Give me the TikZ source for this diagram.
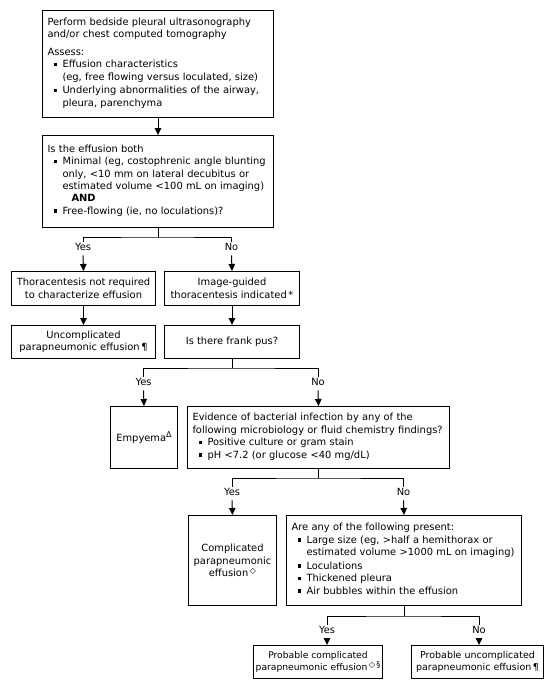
\documentclass[tikz,border=0pt]{standalone}
\usepackage{fontspec}
\setmainfont{DejaVu Sans}
\usetikzlibrary{arrows.meta}
\newcommand\bitem[1]{\par\noindent\hspace*{6pt}\makebox[9pt][l]{\raisebox{1.6pt}{\rule{3.4pt}{3.4pt}}}\begin{tabular}[t]{@{}l@{}}#1\end{tabular}\par}
\newcommand\myfont{\fontsize{9.9}{12.5}\selectfont}
\newcommand\mysup[1]{\raisebox{3.4pt}{\fontsize{8}{8}\selectfont #1}}
\tikzset{
  box/.style={draw, line width=1pt, inner xsep=5pt, inner ysep=0pt, anchor=north west, font=\myfont},
  lbox/.style={box, align=left},
  cbox/.style={box, align=center},
  lab/.style={font=\myfont, inner sep=1.5pt},
  ln/.style={line width=1pt},
  arr/.style={line width=1pt, -{Triangle[length=7pt,width=6.5pt]}}
}
\begin{document}
\begin{tikzpicture}[x=1pt,y=-1pt]
\useasboundingbox (0,0) rectangle (559,698);
% boxes
\node[lbox, minimum width=231pt, minimum height=107pt, text width=221pt] (b1) at (42,10)
 {Perform bedside pleural ultrasonography\\and/or chest computed tomography\par\vspace{5pt}Assess:\bitem{Effusion characteristics\\(eg, free flowing versus loculated, size)}\bitem{Underlying abnormalities of the airway,\\pleura, parenchyma}};
\node[lbox, minimum width=231pt, minimum height=92pt, text width=221pt] (b2) at (42,135)
 {Is the effusion both\bitem{Minimal (eg, costophrenic angle blunting\\only, <10 mm on lateral decubitus or\\estimated volume <100 mL on imaging)}\noindent\hspace*{24pt}\textbf{AND}\bitem{Free-flowing (ie, no loculations)?}\par\vspace{6pt}};
\node[cbox, minimum width=144pt, minimum height=34pt] (b3) at (11,271)
 {Thoracentesis not required\\to characterize effusion};
\node[cbox, minimum width=135pt, minimum height=34pt] (b4) at (164,271)
 {Image-guided\\thoracentesis indicated\,*};
\node[cbox, minimum width=144pt, minimum height=33pt] (b5) at (11,325)
 {Uncomplicated\\parapneumonic effusion\,¶};
\node[cbox, minimum width=135pt, minimum height=33pt] (b6) at (164,325)
 {Is there frank pus?};
\node[cbox, minimum width=67pt, minimum height=62pt, inner xsep=2pt] (b7) at (110,406)
 {Empyema\mysup{Δ}};
\node[lbox, minimum width=262pt, minimum height=62pt, text width=252pt] (b8) at (187,406)
 {Evidence of bacterial infection by any of the\\following microbiology or fluid chemistry findings?\bitem{Positive culture or gram stain}\bitem{pH <7.2 (or glucose <40 mg/dL)}};
\node[cbox, minimum width=88pt, minimum height=90pt, inner xsep=2pt] (b9) at (188,515)
 {Complicated\\parapneumonic\\effusion\,\mysup{◇}};
\node[lbox, minimum width=235pt, minimum height=90pt, text width=225pt] (b10) at (286,515)
 {Are any of the following present:\bitem{Large size (eg, >half a hemithorax or\\estimated volume >1000 mL on imaging)}\bitem{Loculations}\bitem{Thickened pleura}\bitem{Air bubbles within the effusion}};
\node[cbox, minimum width=129pt, minimum height=33pt, inner xsep=2pt, font=\fontsize{9.2}{12.5}\selectfont] (b11) at (253,645)
 {Probable complicated\\parapneumonic effusion\,\mysup{◇\,§}};
\node[cbox, minimum width=132pt, minimum height=33pt, inner xsep=2pt, font=\fontsize{9.5}{12.5}\selectfont] (b12) at (411,645)
 {Probable uncomplicated\\parapneumonic effusion\,¶};
% labels
\node[lab] (y1) at (83,247) {Yes};
\node[lab] (n1) at (231.5,247) {No};
\node[lab] (y2) at (143.5,382) {Yes};
\node[lab] (n2) at (318,382) {No};
\node[lab] (y3) at (232,492) {Yes};
\node[lab] (n3) at (403.5,492) {No};
\node[lab] (y4) at (327,630) {Yes};
\node[lab] (n4) at (479,630) {No};
% connectors
\draw[arr] (b1) -- (b2);
\draw[ln] (b2.south) -- ++(0,9) coordinate (j1);
\draw[ln] (y1.north) |- (j1) -| (n1.north);
\draw[arr] ([yshift=-3pt]y1.south) -- (b3.north);
\draw[arr] ([yshift=-3pt]n1.south) -- (b4.north);
\draw[arr] (b3) -- (b5);
\draw[arr] (b4) -- (b6);
\draw[ln] (b6.south) -- ++(0,9) coordinate (j2);
\draw[ln] (y2.north) |- (j2) -| (n2.north);
\draw[arr] ([yshift=-3pt]y2.south) -- (b7.north);
\draw[arr] ([yshift=-3pt]n2.south) -- (b8.north);
\draw[ln] (b8.south) -- ++(0,9) coordinate (j3);
\draw[ln] (y3.north) |- (j3) -| (n3.north);
\draw[arr] ([yshift=-3pt]y3.south) -- (b9.north);
\draw[arr] ([yshift=-3pt]n3.south) -- (b10.north);
\draw[ln] (b10.south) -- ++(0,10) coordinate (j4);
\draw[ln] (y4.north) |- (j4) -| (n4.north);
\draw[arr] ([yshift=-3pt]y4.south) -- (y4.south |- b11.north);
\draw[arr] ([yshift=-3pt]n4.south) -- (n4.south |- b12.north);
\end{tikzpicture}
\end{document}
